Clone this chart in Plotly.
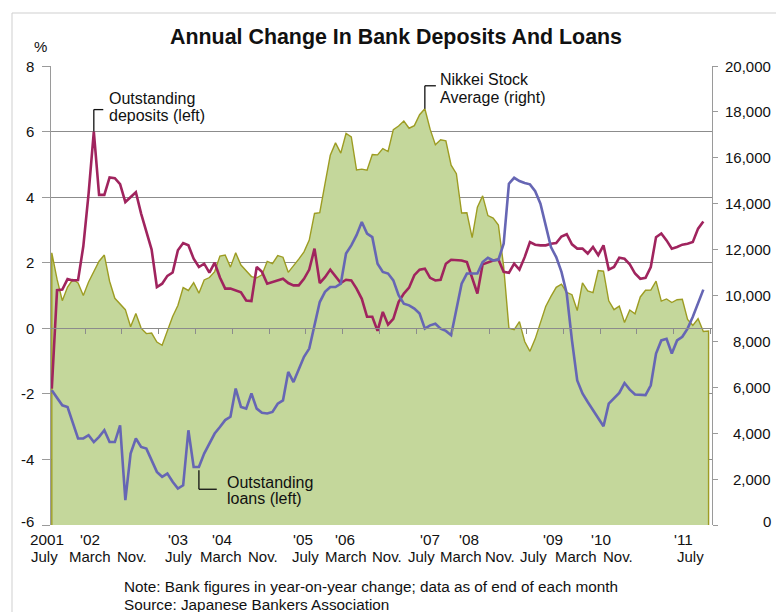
import plotly.graph_objects as go

# ---------------- data (monthly, Jul 2001 onward) ----------------
nikkei = [11861, 10713, 9775, 10366, 10697, 10543,
          9997, 10588, 11025, 11493, 11764, 10622, 9878, 9619, 9383, 8640, 9216, 8579,
          8340, 8363, 7973, 7831, 8425, 9083, 9563, 10344, 10219, 10560, 10101, 10677,
          10784, 11042, 11715, 11762, 11236, 11859, 11326, 11082, 10824, 10771, 10899, 11489,
          11388, 11741, 11669, 11009, 11277, 11584, 11900, 12414, 13574, 13607, 14872, 16111,
          16650, 16205, 17060, 16906, 15467, 15505, 15457, 16141, 16128, 16399, 16274, 17226,
          17383, 17604, 17288, 17400, 17876, 18138, 17249, 16569, 16786, 16738, 15681, 15308,
          13592, 13603, 12526, 13850, 14339, 13481, 13377, 13073, 11260, 8577, 8512, 8860,
          7994, 7568, 8110, 8828, 9523, 9958, 10357, 10493, 10133, 10035, 9346, 10546,
          10198, 10126, 11090, 11057, 9769, 9383, 9537, 8824, 9369, 9202, 9937, 10229,
          10238, 10624, 9755, 9850, 9694, 9816, 9833, 8955, 8700, 8988, 8435, 8455]

deposits = [-1.84, 1.16, 1.18, 1.5, 1.46, 1.47, 2.5, 4.1, 6.0, 4.07,
            4.07, 4.6, 4.58, 4.4, 3.85, 4.0, 4.15, 3.5, 2.95, 2.4,
            1.26, 1.36, 1.6, 1.7, 2.38, 2.6, 2.53, 2.12, 1.87, 1.97,
            1.7, 2.0, 1.55, 1.21, 1.21, 1.16, 1.1, 0.85, 0.83, 1.87,
            1.72, 1.36, 1.41, 1.44, 1.51, 1.38, 1.31, 1.31, 1.51, 1.79,
            2.43, 1.38, 1.56, 1.79, 1.59, 1.38, 1.48, 1.46, 1.21, 0.9,
            0.35, 0.35, -0.08, 0.5, 0.11, 0.29, 0.8, 1.06, 1.24, 1.62,
            1.79, 1.82, 1.54, 1.46, 1.48, 1.97, 2.09, 2.07, 2.07, 2.02,
            1.56, 1.06, 1.95, 2.02, 2.07, 2.1, 1.72, 1.69, 1.97, 1.79,
            2.17, 2.63, 2.55, 2.53, 2.53, 2.58, 2.6, 2.8, 2.87, 2.56,
            2.43, 2.43, 2.28, 2.48, 2.23, 2.53, 1.79, 1.87, 2.15, 2.12,
            1.95, 1.67, 1.51, 1.54, 1.87, 2.78, 2.89, 2.68, 2.43, 2.48,
            2.55, 2.58, 2.63, 3.04, 3.26]

loans = [-1.89, -2.14, -2.35, -2.4, -2.86, -3.36, -3.36, -3.26, -3.47, -3.31,
         -3.11, -3.47, -3.47, -2.96, -5.24, -3.82, -3.36, -3.62, -3.67, -4.02,
         -4.38, -4.53, -4.43, -4.68, -4.89, -4.79, -3.11, -4.23, -4.23, -3.82,
         -3.52, -3.21, -3.01, -2.8, -2.7, -1.84, -2.4, -2.45, -1.99, -2.45,
         -2.58, -2.6, -2.55, -2.3, -2.2, -1.33, -1.64, -1.23, -0.87, -0.62,
         0.09, 0.8, 1.11, 1.26, 1.26, 1.36, 2.28, 2.53, 2.84, 3.24,
         2.89, 2.78, 1.97, 1.72, 1.67, 1.46, 1.01, 0.75, 0.7, 0.6,
         0.45, -0.01, 0.09, 0.14, -0.01, -0.08, -0.21, 0.6, 1.36, 1.67,
         1.67, 1.67, 2.02, 2.15, 2.07, 2.09, 2.58, 4.41, 4.59, 4.49,
         4.43, 4.39, 4.18, 3.8, 3.14, 2.48, 2.17, 1.72, 1.06, -0.37,
         -1.59, -1.99, -2.25, -2.5, -2.75, -2.99, -2.3, -2.14, -1.97, -1.67,
         -1.87, -2.02, -2.04, -2.04, -1.74, -0.77, -0.37, -0.32, -0.77, -0.37,
         -0.26, -0.01, 0.35, 0.75, 1.18]

year_labels = ["2001", "'02", "", "'03", "'04", "", "'05", "'06", "", "'07", "'08", "", "'09", "'10", "", "'11"]
month_labels = ["July", "March", "Nov.", "July", "March", "Nov.", "July", "March", "Nov.",
                "July", "March", "Nov.", "July", "March", "Nov.", "July"]
left_ticks = [-6, -4, -2, 0, 2, 4, 6, 8]
right_ticks = [0, 2000, 4000, 6000, 8000, 10000, 12000, 14000, 16000, 18000, 20000]

# ---------------- layout constants (pixels) ----------------
W, H = 776, 612
L, R, T, B = 51, 712, 66, 525
PW, PH = R - L, B - T

def px(x):
    return (x - L) / PW

def py(y):
    return (B - y) / PH

month_px = [44, 90, 132, 178, 221, 263, 305, 346, 387, 421, 461, 500, 533, 576, 618, 690]
year_px = [47, 90, None, 178, 222, None, 303, 345, None, 430, 469, None, 553, 601, None, 683]

FONT = "Liberation Sans, Arial, sans-serif"
TXT = "#111111"
GRID = "#8c8c8c"
AXIS = "#9a9a9a"
DEP_C = "#a0245e"
LOAN_C = "#6666b4"
NK_LINE = "#9d9c22"
NK_FILL = "#c4d79b"

n_idx = list(range(len(nikkei)))
b_idx = list(range(len(deposits)))

fig = go.Figure()
fig.add_trace(go.Scatter(
    x=[n_idx[0]] + n_idx + [n_idx[-1]], y=[0] + nikkei + [0],
    mode="lines", fill="toself", fillcolor=NK_FILL,
    line=dict(color=NK_LINE, width=1.4), yaxis="y", hoverinfo="skip"))
fig.add_trace(go.Scatter(x=b_idx, y=deposits, mode="lines",
                         line=dict(color=DEP_C, width=2.6), yaxis="y2"))
fig.add_trace(go.Scatter(x=b_idx, y=loans, mode="lines",
                         line=dict(color=LOAN_C, width=2.6), yaxis="y2"))

tick_x = [7 * k - 0.65 for k in range(1, 19)]

fig.update_layout(
    width=W, height=H, autosize=False,
    margin=dict(l=L, r=W - R, t=T, b=H - B),
    paper_bgcolor="white", plot_bgcolor="white",
    showlegend=False,
    font=dict(family=FONT, color=TXT, size=15),
    xaxis=dict(range=[-0.15, 125.65], anchor="free", position=6 / 14,
               showline=True, linecolor=GRID, linewidth=1.3,
               ticks="outside", tickvals=tick_x, ticklen=5, tickcolor=GRID, tickwidth=1,
               showticklabels=False, showgrid=False, zeroline=False, layer="above traces"),
    yaxis=dict(side="right", range=[0, 20000], anchor="x",
               tickvals=right_ticks, ticks="outside", ticklen=5, tickcolor=AXIS,
               showline=True, linecolor=AXIS, linewidth=1,
               showticklabels=False, showgrid=False, zeroline=False),
    yaxis2=dict(side="left", overlaying="y", anchor="x", range=[-6, 8],
                tickvals=left_ticks, ticks="outside", ticklen=8, tickcolor=AXIS,
                showline=True, linecolor=AXIS, linewidth=1, showticklabels=False,
                showgrid=True, gridcolor=GRID, gridwidth=1, zeroline=False),
)

ann = []
# left axis labels (right aligned; bottom one nudged up like the original)
for v in left_ticks:
    ann.append(dict(xref="paper", yref="y2", x=px(36), y=v, text=str(v),
                    xanchor="right", yanchor="middle", showarrow=False,
                    yshift=4 if v == left_ticks[0] else 0,
                    font=dict(size=15, family=FONT, color=TXT)))
# right axis labels (right aligned)
for v in right_ticks:
    ann.append(dict(xref="paper", yref="y", x=px(773), y=v, text=f"{v:,}",
                    xanchor="right", yanchor="middle", showarrow=False,
                    yshift=4 if v == right_ticks[0] else 0,
                    font=dict(size=15, family=FONT, color=TXT)))
# title and unit
ann.append(dict(xref="paper", yref="paper", x=px(396), y=py(37),
                text="<b>Annual Change In Bank Deposits And Loans</b>",
                xanchor="center", yanchor="middle", showarrow=False,
                font=dict(size=21.4, family=FONT, color=TXT)))
ann.append(dict(xref="paper", yref="paper", x=px(40), y=py(46), text="%",
                xanchor="center", yanchor="middle", showarrow=False,
                font=dict(size=15, family=FONT, color=TXT)))
# x labels
for i, (yl, ml) in enumerate(zip(year_labels, month_labels)):
    if yl:
        ann.append(dict(xref="paper", yref="paper", x=px(year_px[i]), y=py(539), text=yl,
                        xanchor="center", yanchor="middle", showarrow=False,
                        font=dict(size=15.3, family=FONT, color=TXT)))
    ann.append(dict(xref="paper", yref="paper", x=px(month_px[i]), y=py(556), text=ml,
                    xanchor="center", yanchor="middle", showarrow=False,
                    font=dict(size=15, family=FONT, color=TXT)))
# notes
ann.append(dict(xref="paper", yref="paper", x=px(122), y=py(586),
                text="Note: Bank figures in year-on-year change; data as of end of each month",
                xanchor="left", yanchor="middle", showarrow=False,
                font=dict(size=15.3, family=FONT, color=TXT)))
ann.append(dict(xref="paper", yref="paper", x=px(122), y=py(604),
                text="Source: Japanese Bankers Association",
                xanchor="left", yanchor="middle", showarrow=False,
                font=dict(size=15.3, family=FONT, color=TXT)))

# series call-outs
def callout(lines, x_left_px, y_centers_px):
    for t, yc in zip(lines, y_centers_px):
        ann.append(dict(xref="paper", yref="paper", x=px(x_left_px), y=py(yc), text=t,
                        xanchor="left", yanchor="middle", showarrow=False,
                        font=dict(size=16, family=FONT, color=TXT)))

callout(["Outstanding", "deposits (left)"], 107, [98, 115])
callout(["Nikkei Stock", "Average (right)"], 438, [80, 97])
callout(["Outstanding", "loans (left)"], 225, [482, 498])

shapes = []
lc = dict(color=TXT, width=1.3)
# deposits leader (from peak)
dj = deposits.index(max(deposits))
shapes.append(dict(type="line", xref="x", yref="y2", x0=dj, y0=max(deposits), x1=dj, y1=max(deposits) + 0.67, line=lc))
shapes.append(dict(type="line", xref="x", yref="y2", x0=dj, y0=max(deposits) + 0.67, x1=dj + 1.8, y1=max(deposits) + 0.67, line=lc))
# nikkei leader (from peak)
nj = nikkei.index(max(nikkei))
shapes.append(dict(type="line", xref="x", yref="y", x0=nj, y0=max(nikkei), x1=nj, y1=max(nikkei) + 1000, line=lc))
shapes.append(dict(type="line", xref="x", yref="y", x0=nj, y0=max(nikkei) + 1000, x1=nj + 2.1, y1=max(nikkei) + 1000, line=lc))
# loans leader
lj = 28
shapes.append(dict(type="line", xref="x", yref="y2", x0=lj, y0=loans[lj] - 0.1, x1=lj, y1=loans[lj] - 0.68, line=lc))
shapes.append(dict(type="line", xref="x", yref="y2", x0=lj, y0=loans[lj] - 0.68, x1=lj + 3.4, y1=loans[lj] - 0.68, line=lc))
# outer frame of the graphic
shapes.append(dict(type="line", xref="paper", yref="paper", x0=px(12), y0=py(13), x1=px(800), y1=py(13),
                   line=dict(color="#cfcfcf", width=1)))
shapes.append(dict(type="line", xref="paper", yref="paper", x0=px(12), y0=py(13), x1=px(12), y1=py(640),
                   line=dict(color="#cfcfcf", width=1)))

fig.update_layout(annotations=ann, shapes=shapes)
fig.write_html("out.html")
